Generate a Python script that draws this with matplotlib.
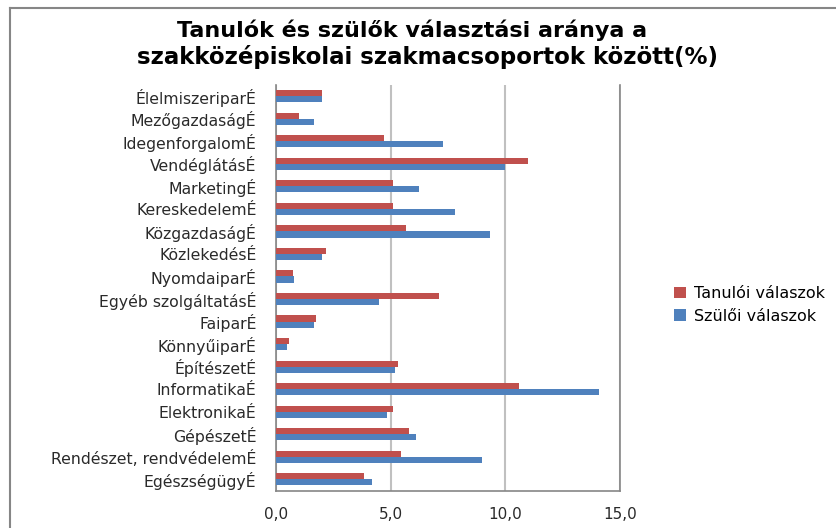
import numpy as np
import matplotlib.pyplot as plt
from matplotlib.lines import Line2D

plt.rcParams['font.family'] = ['DejaVu Sans']

# categories listed top to bottom as in the chart
categories = [
    "ÉlelmiszeriparÉ", "MezőgazdaságÉ", "IdegenforgalomÉ", "VendéglátásÉ",
    "MarketingÉ", "KereskedelemÉ", "KözgazdaságÉ", "KözlekedésÉ",
    "NyomdaiparÉ", "Egyéb szolgáltatásÉ", "FaiparÉ", "KönnyűiparÉ",
    "ÉpítészetÉ", "InformatikaÉ", "ElektronikaÉ", "GépészetÉ",
    "Rendészet, rendvédelemÉ", "EgészségügyÉ",
]
tanuloi = [2.0, 1.0, 4.7, 11.0, 5.1, 5.1, 5.65, 2.2, 0.75, 7.1,
           1.75, 0.55, 5.3, 10.6, 5.1, 5.8, 5.45, 3.85]
szuloi = [2.0, 1.65, 7.3, 10.0, 6.25, 7.8, 9.35, 2.0, 0.8, 4.5,
          1.65, 0.5, 5.2, 14.1, 4.85, 6.1, 9.0, 4.2]
xticks = [0, 5, 10, 15]
xticklabels = ["0,0", "5,0", "10,0", "15,0"]

red = "#C0504D"
blue = "#4F81BD"
grey = "#868686"

fig = plt.figure(figsize=(8.37, 5.28), dpi=100)
ax = fig.add_axes([276 / 837, 1 - 490.5 / 528, 344 / 837, 405.5 / 528])

n = len(categories)
y = np.arange(n)[::-1]
h = 0.27
ax.barh(y + h / 2, tanuloi, height=h, color=red, label="Tanulói válaszok", zorder=3)
ax.barh(y - h / 2, szuloi, height=h, color=blue, label="Szülői válaszok", zorder=3)

ax.set_xlim(0, 15)
ax.set_ylim(-0.5, n - 0.5)
ax.set_yticks(y)
ax.set_yticklabels(categories, fontsize=11.3, color="#2a2a2a")
ax.set_xticks(xticks)
ax.set_xticklabels(xticklabels, fontsize=11, color="#2a2a2a")
ax.tick_params(axis="y", length=0, pad=14)
ax.tick_params(axis="x", length=0, pad=12)

ax.xaxis.grid(True, color="#c0c0c0", linewidth=1.5, zorder=0)
ax.spines["top"].set_visible(False)
for s in ["left", "bottom", "right"]:
    ax.spines[s].set_color(grey)
    ax.spines[s].set_linewidth(1.2)

ax.legend(loc="upper left", bbox_to_anchor=(668 / 837, 1 - 280 / 528),
          bbox_transform=fig.transFigure, frameon=False, fontsize=11.5,
          handlelength=0.7, handleheight=0.7, handletextpad=0.5,
          labelspacing=0.45, borderaxespad=0)

fig.text(412 / 837, 1 - 30 / 528, "Tanulók és szülők választási aránya a",
         ha="center", va="center", fontsize=16, fontweight="bold")
fig.text(428 / 837, 1 - 57 / 528, "szakközépiskolai szakmacsoportok között(%)",
         ha="center", va="center", fontsize=16.5, fontweight="bold")

# chart frame: top and left edges only
fig.add_artist(Line2D([10 / 837, 1], [1 - 8 / 528, 1 - 8 / 528],
                      transform=fig.transFigure, color=grey, linewidth=1.5))
fig.add_artist(Line2D([10 / 837, 10 / 837], [0, 1 - 8 / 528],
                      transform=fig.transFigure, color=grey, linewidth=1.5))

fig.savefig("out.png", dpi=100)
